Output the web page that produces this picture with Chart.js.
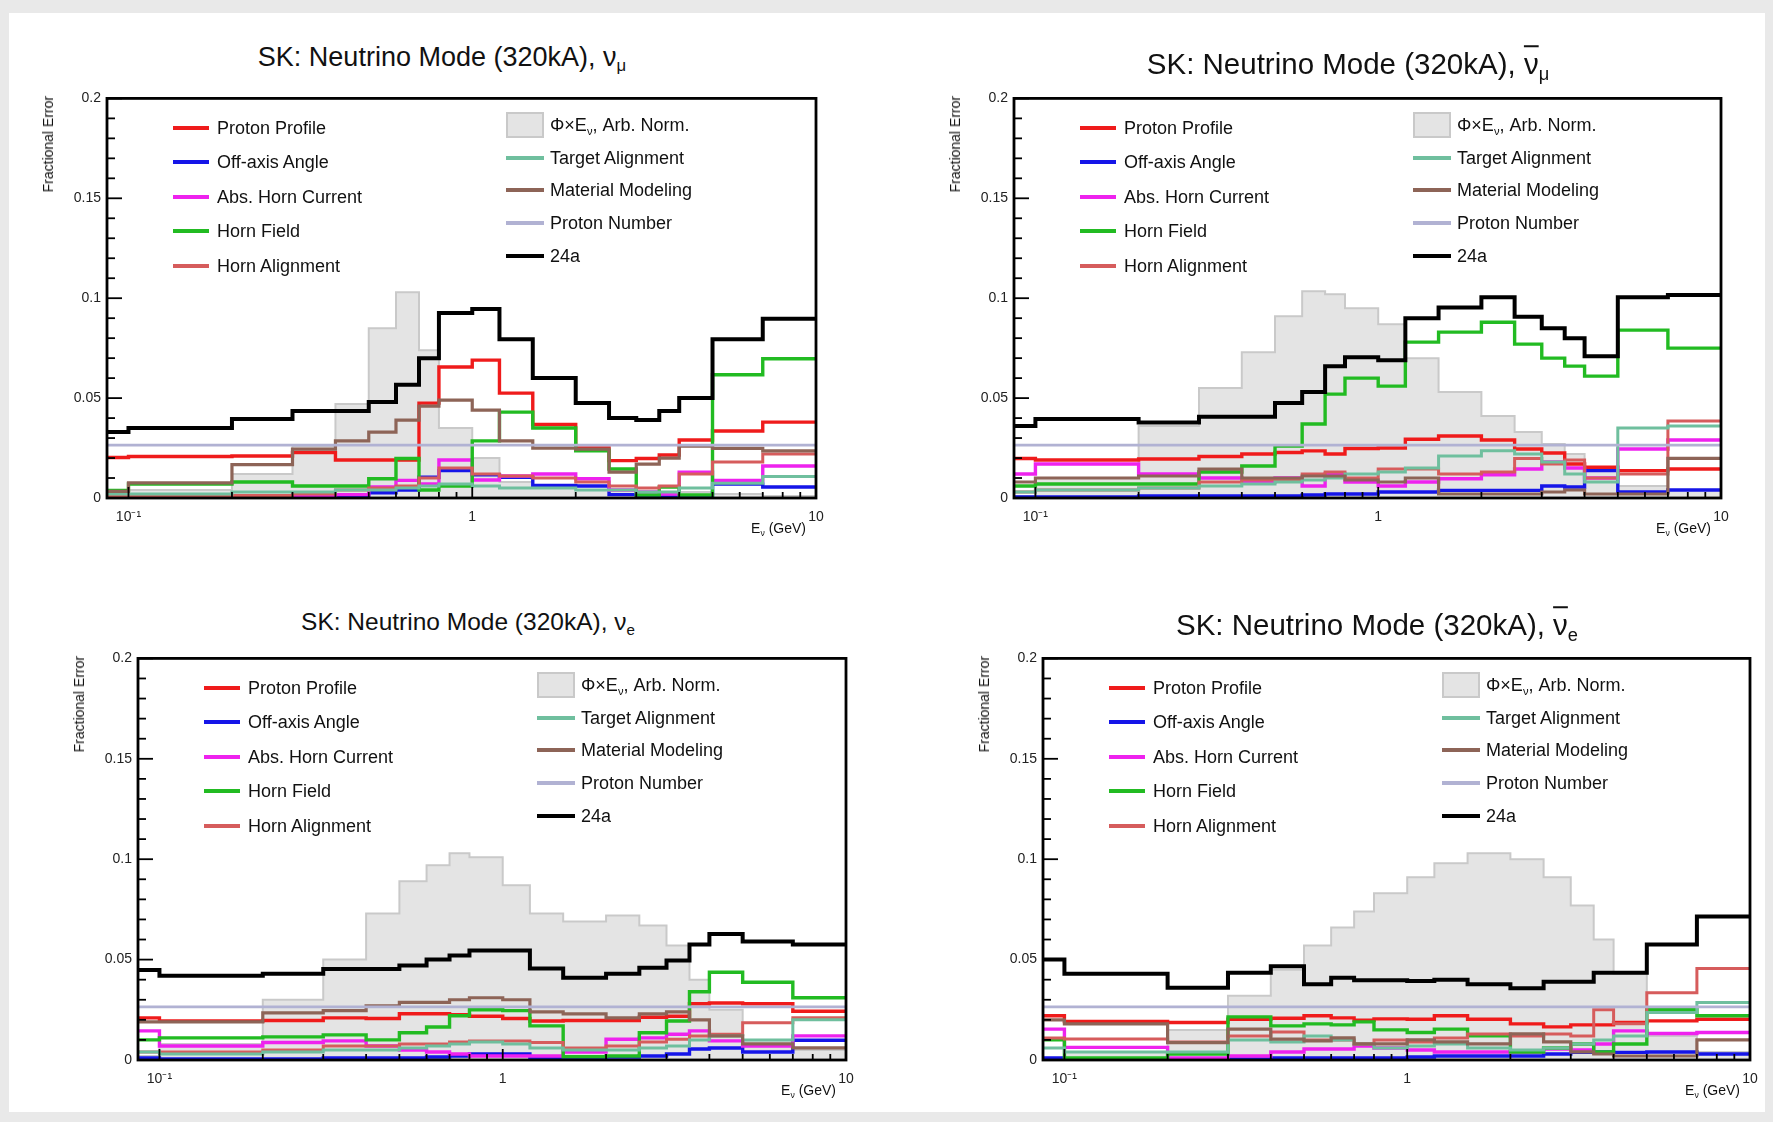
<!DOCTYPE html>
<html>
<head>
<meta charset="utf-8">
<title>SK flux fractional errors</title>
<script src="https://cdn.jsdelivr.net/npm/chart.js@4.4.1/dist/chart.umd.min.js"></script>
<style>
  html, body { margin: 0; padding: 0; }
  body {
    width: 1773px; height: 1122px; position: relative; overflow: hidden;
    background: #e9e9e9; font-family: "Liberation Sans", Arial, sans-serif; color: #111;
  }
  #sheet { position: absolute; left: 9px; top: 13px; width: 1756px; height: 1099px; background: #fff; }
  canvas { position: absolute; }
  .title { position: absolute; white-space: nowrap; transform: translate(-50%, -50%); line-height: 1; }
  .ytitle { position: absolute; white-space: nowrap; writing-mode: vertical-rl; transform: translateX(-50%) rotate(180deg); font-size: 14px; line-height: 1; }
  .xtitle { position: absolute; white-space: nowrap; font-size: 14px; line-height: 1; transform: translateX(-100%); }
  .lgtext { position: absolute; white-space: nowrap; font-size: 18px; line-height: 1; transform: translateY(-50%); }
  .lgline { position: absolute; height: 4px; }
  .lgbox { position: absolute; box-sizing: border-box; background: #e4e4e4; border: 2px solid #c9c9c9; }
  .bar { text-decoration: overline; text-decoration-thickness: 0.06em; }
  sub { font-size: 62%; vertical-align: -0.32em; line-height: 0; }
</style>
</head>
<body>
<div id="sheet"></div>
<script>
// Energy binning (GeV) shared by all four histograms
const binEdges = [0, 0.1, 0.2, 0.3, 0.4, 0.5, 0.6, 0.7, 0.8, 1.0, 1.2, 1.5, 2.0, 2.5, 3.0, 3.5, 4.0, 5.0, 7.0, 10.0];

// Axis ticks
const xTickValues = [0.1, 0.2, 0.3, 0.4, 0.5, 0.6, 0.7, 0.8, 0.9, 1, 2, 3, 4, 5, 6, 7, 8, 9, 10];
const xMajorTicks = [0.1, 1, 10];
const xMajorLabels = ['10\u207B\u00B9', '1', '10'];
const yTickValues = [0, 0.05, 0.1, 0.15, 0.2];
const yTickLabels = ['0', '0.05', '0.1', '0.15', '0.2'];
const yMinorStep = 0.01;

// Proton Number error, flat in energy
const protonNumber = [0.0265, 0.0265, 0.0265, 0.0265, 0.0265, 0.0265, 0.0265, 0.0265, 0.0265, 0.0265, 0.0265, 0.0265, 0.0265, 0.0265, 0.0265, 0.0265, 0.0265, 0.0265, 0.0265];

// ---- SK nu_mu ----
const numuFlux           = [0.001, 0.004, 0.012, 0.026, 0.047, 0.085, 0.103, 0.074, 0.035, 0.020, 0.008, 0.005, 0.004, 0.004, 0.003, 0.003, 0.003, 0.002, 0.001];
const numuProtonProfile  = [0.0203, 0.0208, 0.021, 0.0228, 0.019, 0.019, 0.019, 0.0475, 0.0656, 0.069, 0.0525, 0.0368, 0.025, 0.0187, 0.0198, 0.0215, 0.029, 0.0335, 0.038];
const numuOffAxis        = [0.0003, 0.0003, 0.0003, 0.0005, 0.001, 0.0026, 0.004, 0.0104, 0.0137, 0.0116, 0.0104, 0.0063, 0.006, 0.0017, 0.001, 0.0005, 0.001, 0.007, 0.0055];
const numuHornCurrent    = [0.0005, 0.0005, 0.0005, 0.001, 0.0017, 0.0055, 0.0088, 0.007, 0.019, 0.009, 0.011, 0.012, 0.0096, 0.004, 0.003, 0.002, 0.0129, 0.0088, 0.016];
const numuHornField      = [0.0038, 0.007, 0.008, 0.006, 0.006, 0.0096, 0.0198, 0.004, 0.006, 0.0286, 0.043, 0.035, 0.0236, 0.0145, 0.0015, 0.0055, 0.0015, 0.0617, 0.0697];
const numuHornAlignment  = [0.001, 0.001, 0.0013, 0.002, 0.004, 0.005, 0.006, 0.010, 0.015, 0.012, 0.011, 0.010, 0.008, 0.006, 0.005, 0.006, 0.012, 0.018, 0.022];
const numuTargetAlign    = [0.002, 0.002, 0.003, 0.003, 0.004, 0.004, 0.005, 0.006, 0.007, 0.006, 0.005, 0.005, 0.004, 0.004, 0.003, 0.003, 0.005, 0.0074, 0.0107];
const numuMaterial       = [0.0033, 0.0076, 0.0167, 0.0245, 0.0286, 0.033, 0.039, 0.046, 0.049, 0.044, 0.0286, 0.025, 0.0245, 0.013, 0.017, 0.020, 0.026, 0.0248, 0.0236];
const numuTotal24a       = [0.033, 0.035, 0.0395, 0.0435, 0.0435, 0.048, 0.0567, 0.070, 0.0926, 0.0946, 0.0795, 0.060, 0.0476, 0.040, 0.039, 0.0435, 0.050, 0.0795, 0.0897];

// ---- SK anti-nu_mu ----
const numubFlux          = [0.001, 0.010, 0.036, 0.055, 0.073, 0.091, 0.1035, 0.102, 0.095, 0.087, 0.070, 0.053, 0.041, 0.033, 0.027, 0.022, 0.015, 0.006, 0.004];
const numubProtonProfile = [0.0198, 0.019, 0.0195, 0.0208, 0.022, 0.0228, 0.0236, 0.022, 0.0248, 0.025, 0.0294, 0.031, 0.029, 0.0245, 0.0225, 0.017, 0.0154, 0.0137, 0.0145];
const numubOffAxis       = [0.0005, 0.0005, 0.001, 0.001, 0.001, 0.001, 0.0015, 0.002, 0.002, 0.003, 0.003, 0.0038, 0.0038, 0.0038, 0.006, 0.0055, 0.0137, 0.003, 0.004];
const numubHornCurrent   = [0.012, 0.017, 0.012, 0.010, 0.008, 0.010, 0.006, 0.012, 0.008, 0.006, 0.008, 0.0096, 0.0116, 0.0145, 0.018, 0.015, 0.010, 0.0245, 0.029];
const numubHornField     = [0.006, 0.007, 0.007, 0.013, 0.016, 0.026, 0.037, 0.052, 0.060, 0.056, 0.078, 0.083, 0.088, 0.077, 0.070, 0.066, 0.061, 0.084, 0.075];
const numubHornAlignment = [0.003, 0.004, 0.005, 0.008, 0.009, 0.009, 0.012, 0.013, 0.010, 0.0145, 0.0145, 0.012, 0.013, 0.0198, 0.017, 0.019, 0.010, 0.012, 0.0385];
const numubTargetAlign   = [0.003, 0.004, 0.005, 0.006, 0.007, 0.008, 0.009, 0.010, 0.012, 0.013, 0.015, 0.021, 0.0236, 0.022, 0.018, 0.012, 0.008, 0.035, 0.036];
const numubMaterial      = [0.008, 0.010, 0.011, 0.0145, 0.010, 0.010, 0.011, 0.011, 0.009, 0.008, 0.010, 0.002, 0.002, 0.002, 0.003, 0.004, 0.002, 0.002, 0.0198];
const numubTotal24a      = [0.036, 0.0395, 0.0378, 0.0407, 0.0407, 0.0476, 0.053, 0.066, 0.0705, 0.069, 0.090, 0.0954, 0.1005, 0.0907, 0.085, 0.080, 0.071, 0.1005, 0.1016];

// ---- SK nu_e ----
const nueFlux            = [0.002, 0.008, 0.030, 0.050, 0.073, 0.089, 0.097, 0.103, 0.101, 0.087, 0.073, 0.069, 0.072, 0.067, 0.057, 0.040, 0.025, 0.010, 0.005];
const nueProtonProfile   = [0.021, 0.0194, 0.0197, 0.021, 0.0207, 0.023, 0.023, 0.0225, 0.0218, 0.0207, 0.0194, 0.0197, 0.0197, 0.0213, 0.0218, 0.028, 0.0284, 0.028, 0.0243];
const nueOffAxis         = [0.001, 0.0005, 0.0005, 0.001, 0.001, 0.001, 0.0015, 0.002, 0.003, 0.003, 0.001, 0.001, 0.0015, 0.002, 0.003, 0.0055, 0.006, 0.004, 0.0098];
const nueHornCurrent     = [0.0145, 0.007, 0.0087, 0.0095, 0.007, 0.005, 0.004, 0.003, 0.002, 0.002, 0.002, 0.004, 0.0103, 0.011, 0.0128, 0.0145, 0.0095, 0.007, 0.012];
const nueHornField       = [0.010, 0.011, 0.0115, 0.0125, 0.010, 0.0136, 0.0164, 0.022, 0.025, 0.0246, 0.017, 0.0016, 0.002, 0.0136, 0.0194, 0.034, 0.0437, 0.0387, 0.031];
const nueHornAlignment   = [0.004, 0.004, 0.005, 0.007, 0.007, 0.008, 0.008, 0.009, 0.0095, 0.0095, 0.0087, 0.006, 0.007, 0.009, 0.0103, 0.012, 0.0128, 0.0186, 0.021];
const nueTargetAlign     = [0.004, 0.003, 0.004, 0.005, 0.005, 0.006, 0.007, 0.008, 0.009, 0.008, 0.006, 0.005, 0.005, 0.006, 0.007, 0.010, 0.012, 0.010, 0.020];
const nueMaterial        = [0.019, 0.019, 0.0235, 0.0246, 0.027, 0.0287, 0.0287, 0.030, 0.031, 0.030, 0.024, 0.023, 0.021, 0.023, 0.024, 0.020, 0.012, 0.008, 0.006];
const nueTotal24a        = [0.0448, 0.042, 0.043, 0.0453, 0.0453, 0.047, 0.050, 0.052, 0.0545, 0.0545, 0.0456, 0.041, 0.043, 0.046, 0.0496, 0.0575, 0.0628, 0.059, 0.0575];

// ---- SK anti-nu_e ----
const nuebFlux           = [0.001, 0.004, 0.015, 0.032, 0.045, 0.057, 0.066, 0.074, 0.083, 0.091, 0.098, 0.103, 0.100, 0.091, 0.077, 0.060, 0.043, 0.012, 0.004];
const nuebProtonProfile  = [0.022, 0.0192, 0.0187, 0.0203, 0.0208, 0.022, 0.021, 0.0198, 0.0205, 0.0203, 0.022, 0.0203, 0.018, 0.0165, 0.0175, 0.0175, 0.0187, 0.0195, 0.0203];
const nuebOffAxis        = [0.001, 0.0003, 0.0003, 0.0005, 0.001, 0.001, 0.001, 0.001, 0.001, 0.0015, 0.002, 0.002, 0.002, 0.003, 0.0038, 0.004, 0.0038, 0.004, 0.003];
const nuebHornCurrent    = [0.0154, 0.0063, 0.001, 0.002, 0.004, 0.0055, 0.0055, 0.007, 0.006, 0.005, 0.004, 0.004, 0.004, 0.0055, 0.005, 0.008, 0.0145, 0.0132, 0.0137];
const nuebHornField      = [0.010, 0.001, 0.003, 0.0215, 0.017, 0.018, 0.0175, 0.019, 0.015, 0.0137, 0.0154, 0.012, 0.004, 0.006, 0.008, 0.004, 0.008, 0.025, 0.022];
const nuebHornAlignment  = [0.011, 0.0104, 0.009, 0.012, 0.014, 0.010, 0.010, 0.008, 0.010, 0.009, 0.011, 0.013, 0.012, 0.013, 0.012, 0.025, 0.018, 0.0335, 0.0456];
const nuebTargetAlign    = [0.006, 0.004, 0.004, 0.010, 0.009, 0.012, 0.010, 0.008, 0.006, 0.007, 0.008, 0.006, 0.005, 0.006, 0.008, 0.010, 0.012, 0.0236, 0.0286];
const nuebMaterial       = [0.020, 0.018, 0.0087, 0.0154, 0.0104, 0.0095, 0.011, 0.008, 0.008, 0.010, 0.009, 0.008, 0.013, 0.009, 0.004, 0.003, 0.002, 0.002, 0.010];
const nuebTotal24a       = [0.050, 0.043, 0.036, 0.0434, 0.0467, 0.0377, 0.041, 0.0397, 0.0397, 0.0393, 0.040, 0.0377, 0.0357, 0.039, 0.039, 0.0435, 0.0435, 0.0575, 0.0715];

// Legend text, colours and line widths of the error sources (ROOT draw order)
const sourceLabels = ['Proton Profile', 'Off-axis Angle', 'Abs. Horn Current', 'Horn Field', 'Horn Alignment',
                      'Target Alignment', 'Material Modeling', 'Proton Number', '24a'];
const sourceColors = ['#ef1b1b', '#1515e8', '#ee22ee', '#22bb22', '#d65c5c', '#6fbf9e', '#8d6457', '#b1b2d3', '#000000'];
const sourceWidths = [3.4, 3.4, 3.4, 3.4, 3, 3, 3.2, 2.8, 4];
const fluxLabel = '\u03A6\u00D7E<sub>\u03BD</sub>, Arb. Norm.';

// Page geometry of each pad: plot frame [left, top, right, bottom], title centre and size
const panels = [
  { frame: [107, 94, 816, 498],   title: 'SK: Neutrino Mode (320kA), \u03BD<sub>\u03BC</sub>', titleAt: [442, 57],   titleSize: 27,
    flux: numuFlux,  series: [numuProtonProfile, numuOffAxis, numuHornCurrent, numuHornField, numuHornAlignment, numuTargetAlign, numuMaterial, protonNumber, numuTotal24a] },
  { frame: [1014, 94, 1721, 498], title: 'SK: Neutrino Mode (320kA), <span class="bar">\u03BD</span><sub>\u03BC</sub>', titleAt: [1348, 64], titleSize: 29.5,
    flux: numubFlux, series: [numubProtonProfile, numubOffAxis, numubHornCurrent, numubHornField, numubHornAlignment, numubTargetAlign, numubMaterial, protonNumber, numubTotal24a] },
  { frame: [138, 654, 846, 1060], title: 'SK: Neutrino Mode (320kA), \u03BD<sub>e</sub>', titleAt: [468, 622],  titleSize: 24.5,
    flux: nueFlux,   series: [nueProtonProfile, nueOffAxis, nueHornCurrent, nueHornField, nueHornAlignment, nueTargetAlign, nueMaterial, protonNumber, nueTotal24a] },
  { frame: [1043, 654, 1750, 1060], title: 'SK: Neutrino Mode (320kA), <span class="bar">\u03BD</span><sub>e</sub>', titleAt: [1377, 625], titleSize: 29.5,
    flux: nuebFlux,  series: [nuebProtonProfile, nuebOffAxis, nuebHornCurrent, nuebHornField, nuebHornAlignment, nuebTargetAlign, nuebMaterial, protonNumber, nuebTotal24a] }
];

const X_MIN = 0.0866, X_MAX = 10;
const FONT = '"Liberation Sans", Arial, sans-serif';
const PAD_L = 90, PAD_T = 10, PAD_R = 20, PAD_B = 50;

// Step-histogram outline: horizontal at each bin value from its low edge to its high edge
function histPoints(values) {
  const pts = values.map((v, i) => ({ x: Math.max(binEdges[i], X_MIN), y: v }));
  pts.push({ x: binEdges[binEdges.length - 1], y: values[values.length - 1] });
  return pts;
}

// ROOT-style frame with ticks pointing into the pad
const rootFrame = {
  id: 'rootFrame',
  afterDatasetsDraw(chart) {
    const { ctx, chartArea: a, scales: { x, y } } = chart;
    ctx.save();
    ctx.strokeStyle = '#000';
    ctx.lineWidth = 1.8;
    const nMinor = Math.round(0.2 / yMinorStep);
    for (let k = 0; k <= nMinor; k++) {
      const py = y.getPixelForValue(k * yMinorStep);
      const len = (k % 5 === 0) ? 15 : 8;
      ctx.beginPath(); ctx.moveTo(a.left, py); ctx.lineTo(a.left + len, py); ctx.stroke();
    }
    xTickValues.forEach(v => {
      const px = x.getPixelForValue(v);
      const len = xMajorTicks.includes(v) ? 11 : 6;
      ctx.beginPath(); ctx.moveTo(px, a.bottom); ctx.lineTo(px, a.bottom - len); ctx.stroke();
    });
    ctx.lineWidth = 2.8;
    ctx.strokeRect(a.left, a.top, a.right - a.left, a.bottom - a.top);
    ctx.restore();
  }
};

function addDiv(cls, html, styles) {
  const d = document.createElement('div');
  d.className = cls;
  d.innerHTML = html;
  Object.assign(d.style, styles);
  document.body.appendChild(d);
  return d;
}

panels.forEach(p => {
  const [l, t, r, b] = p.frame;
  const canvas = document.createElement('canvas');
  const w = (r - l) + PAD_L + PAD_R, h = (b - t) + PAD_T + PAD_B;
  canvas.width = w; canvas.height = h;
  canvas.style.left = (l - PAD_L) + 'px';
  canvas.style.top = (t - PAD_T) + 'px';
  canvas.style.width = w + 'px'; canvas.style.height = h + 'px';
  document.body.appendChild(canvas);

  const datasets = [{
    label: 'flux', data: histPoints(p.flux), stepped: 'before',
    borderColor: '#c9c9c9', borderWidth: 2, backgroundColor: '#e4e4e4', fill: 'origin',
    pointRadius: 0, order: 20
  }];
  p.series.forEach((vals, i) => {
    datasets.push({
      label: sourceLabels[i], data: histPoints(vals), stepped: 'before',
      borderColor: sourceColors[i], borderWidth: sourceWidths[i], fill: false,
      pointRadius: 0, order: sourceLabels.length - i
    });
  });

  new Chart(canvas, {
    type: 'line',
    data: { datasets },
    options: {
      responsive: false, animation: false, events: [],
      devicePixelRatio: 1,
      layout: { padding: { left: 0, top: PAD_T, right: PAD_R, bottom: 0 } },
      plugins: { legend: { display: false }, tooltip: { enabled: false }, title: { display: false } },
      scales: {
        x: {
          type: 'logarithmic', min: X_MIN, max: X_MAX,
          afterFit(s) { s.height = PAD_B; },
          afterBuildTicks(s) { s.ticks = xTickValues.map(v => ({ value: v })); },
          grid: { display: false, drawTicks: false }, border: { display: false },
          ticks: {
            autoSkip: false, maxRotation: 0, minRotation: 0, padding: 11,
            color: '#222', font: { family: FONT, size: 14 },
            callback(v) {
              const k = xMajorTicks.findIndex(m => Math.abs(m - v) < 1e-9);
              return k >= 0 ? xMajorLabels[k] : '';
            }
          }
        },
        y: {
          type: 'linear', min: 0, max: 0.2,
          afterFit(s) { s.width = PAD_L; },
          afterBuildTicks(s) { s.ticks = yTickValues.map(v => ({ value: v })); },
          grid: { display: false, drawTicks: false }, border: { display: false },
          ticks: {
            padding: 6, color: '#222', font: { family: FONT, size: 14 },
            callback(v, i) { return yTickLabels[i]; }
          }
        }
      }
    },
    plugins: [rootFrame]
  });

  // Title, axis titles
  addDiv('title', p.title, { left: p.titleAt[0] + 'px', top: p.titleAt[1] + 'px', fontSize: p.titleSize + 'px' });
  addDiv('ytitle', 'Fractional Error', { left: (l - 59) + 'px', top: (t + 2) + 'px' });
  addDiv('xtitle', 'E<sub>\u03BD</sub> (GeV)', { left: (r - 10) + 'px', top: (b + 23) + 'px' });

  // Legend, left column: first five sources
  for (let i = 0; i < 5; i++) {
    const cy = t + 33.5 + 34.6 * i;
    addDiv('lgline', '', { left: (l + 66) + 'px', top: (cy - 2) + 'px', width: '36px', background: sourceColors[i] });
    addDiv('lgtext', sourceLabels[i], { left: (l + 110) + 'px', top: cy + 'px' });
  }
  // Legend, right column: flux box then the remaining sources
  const rowsR = [fluxLabel].concat(sourceLabels.slice(5));
  rowsR.forEach((txt, j) => {
    const cy = t + 31 + 32.7 * j;
    if (j === 0) {
      addDiv('lgbox', '', { left: (l + 399) + 'px', top: (cy - 13) + 'px', width: '38px', height: '26px' });
    } else {
      addDiv('lgline', '', { left: (l + 399) + 'px', top: (cy - 2) + 'px', width: '38px', background: sourceColors[4 + j] });
    }
    addDiv('lgtext', txt, { left: (l + 443) + 'px', top: cy + 'px' });
  });
});
</script>
</body>
</html>
